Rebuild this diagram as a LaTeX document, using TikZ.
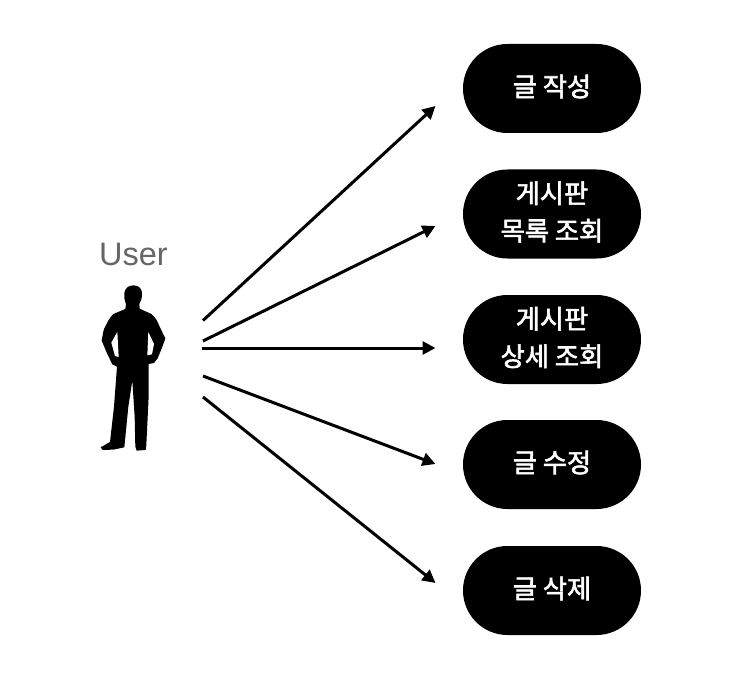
\documentclass[tikz,border=0pt]{standalone}
\usepackage{fontspec}
\setmainfont{Liberation Sans}
\newfontfamily\krfont{Noto Sans CJK KR}[FakeBold=2.2]
\newcommand\lowpad{\rule[-6pt]{0pt}{0pt}}
\usetikzlibrary{arrows.meta,shapes.misc}
\tikzset{
  pill/.style={rounded rectangle,fill=black,text=white,minimum width=178pt,minimum height=89pt,inner sep=0pt,align=center,
    font=\krfont\fontsize{26.3pt}{37.5pt}\selectfont},
  link/.style={line width=3pt,-{Triangle[length=13pt,width=13pt]}},
  userlabel/.style={text=black!60,font=\fontsize{32.5pt}{36pt}\selectfont,inner sep=0pt}
}
\begin{document}
\begin{tikzpicture}[x=1pt,y=-1pt]
\useasboundingbox (0,0) rectangle (742,674);
\node[pill] (n1) at (552,88.5) {글 작성\lowpad};
\node[pill] (n2) at (552,214) {게시판\\목록 조회\lowpad};
\node[pill] (n3) at (552,339.5) {게시판\\상세 조회\lowpad};
\node[pill] (n4) at (552,464.5) {글 수정\lowpad};
\node[pill] (n5) at (552,590.5) {글 삭제\lowpad};
\node[userlabel] (user) at (133.5,254.5) {User};
% silhouette
\begin{scope}[shift={(80,230)},x=0.3333pt,y=-0.3333pt]
\fill[black] (160,166) .. controls (178,166) and (187,178) .. (186,192)
  .. controls (186,205) and (183,214) .. (178,222) -- (179,236) -- (214,252)
  .. controls (227,262) and (233,275) .. (239,290) -- (256,325)
  .. controls (250,345) and (241,365) .. (233,385) -- (222,399) -- (206,402)
  -- (206,500) -- (199,645) -- (197,660) -- (170,662) -- (166,650) -- (164,560) -- (157,452)
  -- (145,530) -- (133,652) -- (100,659) -- (68,660) -- (62,652) -- (90,636) -- (102,530) -- (111,410)
  -- (97,403) -- (82,372) -- (65,332) -- (71,300)
  .. controls (80,280) and (89,262) .. (100,252)
  -- (136,237) -- (138,222) .. controls (133,210) and (132,200) .. (133,190)
  .. controls (134,176) and (145,166) .. (160,166) -- cycle;
\fill[white] (112,306) -- (94,338) -- (105,378) -- (116,381) -- cycle;
\fill[white] (205,306) -- (222,342) -- (216,373) -- (202,376) -- cycle;
\end{scope}
\coordinate (s1) at (203,320.5);
\coordinate (s2) at (203,341);
\coordinate (s3) at (202,348);
\coordinate (s4) at (203,376);
\coordinate (s5) at (203,397);
\coordinate (e1) at (435.5,106);
\coordinate (e2) at (435.5,226);
\coordinate (e3) at (435.5,348);
\coordinate (e4) at (435.5,464);
\coordinate (e5) at (435.5,583);
\foreach \i in {1,...,5}{\draw[link] (s\i) -- (e\i);}
\end{tikzpicture}
\end{document}
